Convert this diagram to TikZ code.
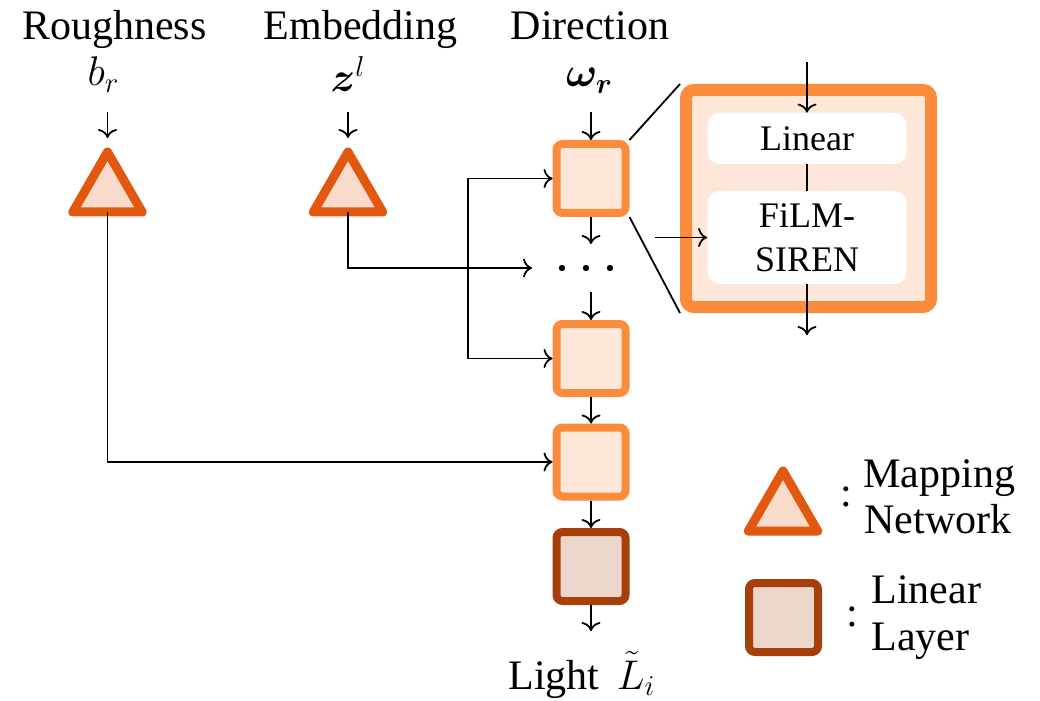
\documentclass[tikz,border=0pt]{standalone}
\usepackage{fontspec}
\setmainfont{Liberation Serif}
\usepackage{amsmath,bm}
\usetikzlibrary{arrows.meta,shapes.geometric}

\definecolor{mapedge}{HTML}{E3580F}
\definecolor{mapfill}{HTML}{F9DACB}
\definecolor{filmedge}{HTML}{FB8C3C}
\definecolor{filmfill}{HTML}{FEE7D8}
\definecolor{linedge}{HTML}{A73F0B}
\definecolor{linfill}{HTML}{ECD6CC}

\begin{document}
\begin{tikzpicture}[x=0.5pt,y=-0.5pt,
  lbl/.style={font=\fontsize{21}{25}\selectfont, inner sep=0pt},
  mathlbl/.style={font=\fontsize{22}{26}\selectfont, inner sep=0pt},
  mapnet/.style={regular polygon, regular polygon sides=3, minimum size=40pt,
    inner sep=0pt, outer sep=0pt, draw=mapedge, fill=mapfill, line width=4.5pt, line join=round},
  filmblk/.style={rectangle, rounded corners=3pt, minimum width=34.5pt, minimum height=34.5pt,
    inner sep=0pt, draw=filmedge, fill=filmfill, line width=4pt},
  linblk/.style={filmblk, draw=linedge, fill=linfill},
  inblk/.style={rectangle, fill=white, rounded corners=6pt, minimum width=99.5pt,
    inner sep=0pt, font=\fontsize{18}{22}\selectfont, align=center},
  dot/.style={circle, fill=black, inner sep=0pt, minimum size=3.2pt},
  conn/.style={line width=0.9pt},
  tip/.tip={To[length=4.5pt,width=9.5pt]},
  arr/.style={conn, -tip},
]
\useasboundingbox (0,0) rectangle (1040,701);

% input labels
\node[lbl, anchor=base] (rough) at (114.5,40) {Roughness};
\node[mathlbl, anchor=base] (br) at (103.5,86) {$b_r$};
\node[lbl, anchor=base] (emb) at (360.5,40) {Embedding};
\node[mathlbl, anchor=base] (zl) at (348,92) {$\bm{z}^l$};
\node[lbl, anchor=base] (dir) at (590,40) {Direction};
\node[mathlbl, anchor=base] (om) at (589.5,87) {$\bm{\omega}_{\bm{r}}$};

% mapping networks
\node[mapnet] (t1) at (107.5,192) {};
\node[mapnet] (t2) at (348,192) {};

% layer column
\node[filmblk] (b1) at (591,178.5) {};
\node[dot] (d1) at (562,268) {};
\node[dot] (d2) at (586,268) {};
\node[dot] (d3) at (610,268) {};
\node[filmblk] (b2) at (591,358.5) {};
\node[filmblk] (b3) at (591,462) {};
\node[linblk] (b4) at (591,566.5) {};
\node[lbl, anchor=base west] (light) at (508,689) {Light\, {\fontsize{22}{26}\selectfont$\tilde{L}_i$}};

% detail of one layer
\node[draw=filmedge, fill=filmfill, line width=6pt, rounded corners=4pt,
      minimum width=122.5pt, minimum height=108.5pt, inner sep=0pt] (big) at (808.5,198.5) {};
\node[inblk, minimum height=25.5pt] (lin) at (807,138.5) {Linear};
\node[inblk, minimum height=46.5pt] (film) at (807,237.5) {FiLM-\\SIREN};

% legend
\node[mapnet] (legtri) at (783,511) {};
\node[lbl] (col1) at (846,497) {:};
\node[lbl, anchor=base west] (legmapa) at (863,487) {Mapping};
\node[lbl, anchor=base west] (legmapb) at (864,533) {Network};
\node[linblk] (legsq) at (783.5,617.5) {};
\node[lbl] (col2) at (852,617) {:};
\node[lbl, anchor=base west] (leglina) at (871,603) {Linear};
\node[lbl, anchor=base west] (leglinb) at (871,650) {Layer};

% free ends of connectors
\coordinate (in1) at (107.5,112);
\coordinate (in2) at (348,112);
\coordinate (in3) at (591,112);
\coordinate (c1) at (591,244);
\coordinate (c2) at (591,292);
\coordinate (c3) at (591,631);
\coordinate (zend) at (532,268);
\coordinate (bus) at (468,268);
\coordinate (bigin) at (807,62);
\coordinate (bigout) at (807,335);
\coordinate (filmin) at (655,237.5);

% inputs
\draw[arr, shorten >=7pt] (in1) -- (t1.north);
\draw[arr, shorten >=7pt] (in2) -- (t2.north);
\draw[arr] (in3) -- (b1.north);

% column flow
\draw[arr] (b1.south) -- (c1);
\draw[arr] (c2) -- (b2.north);
\draw[arr] (b2.south) -- (b3.north);
\draw[arr] (b3.south) -- (b4.north);
\draw[arr] (b4.south) -- (c3);

% modulation paths
\draw[arr] (t2.south) |- (zend);
\draw[conn, tip-tip] (b1.west) -- (b1.west -| bus) -- (b2.west -| bus) -- (b2.west);
\draw[arr] (t1.south) |- (b3.west);

% zoom lines and layer internals
\draw[conn] (b1.north east) -- (big.north west);
\draw[conn] (b1.south east) -- (big.south west);
\draw[arr] (bigin) -- (lin.north);
\draw[conn] (lin.south) -- (film.north);
\draw[arr] (film.south) -- (bigout);
\draw[arr] (filmin) -- (film.west);
\end{tikzpicture}
\end{document}
